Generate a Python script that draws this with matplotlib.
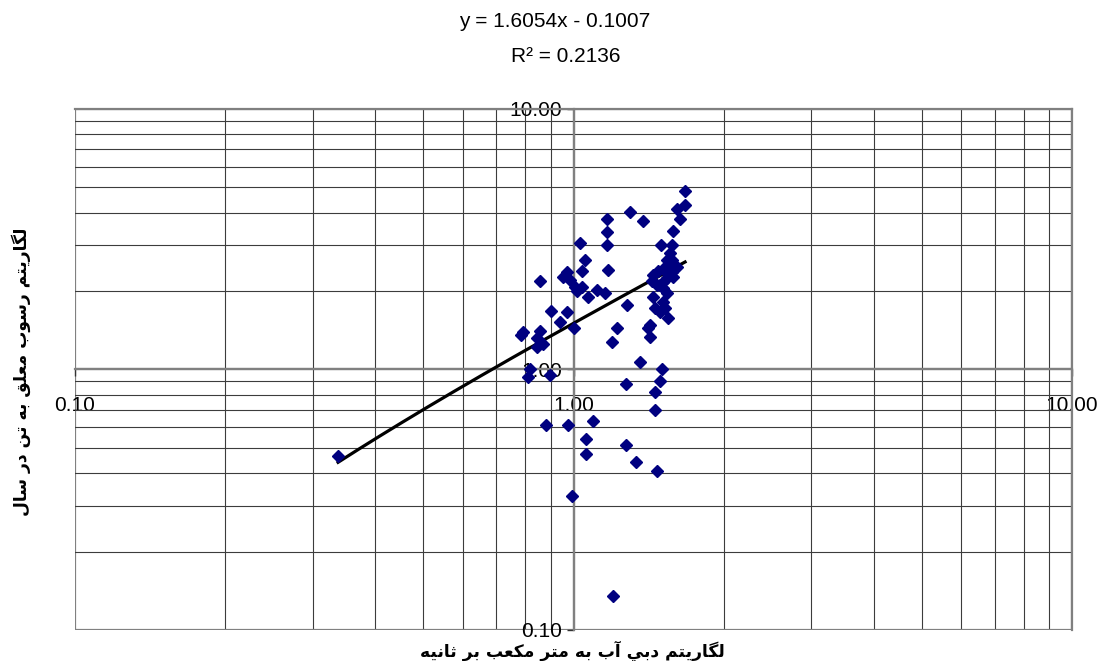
import numpy as np
import matplotlib.pyplot as plt
from matplotlib.ticker import LogLocator, FormatStrFormatter, NullFormatter

# discharge (m3/s) and suspended sediment (t/yr)
discharge = [
    1.674, 1.674, 1.613, 1.635, 1.583, 1.298, 1.379, 1.167, 1.167, 1.167,
    1.030, 1.054, 1.040, 1.173, 0.857, 0.970, 0.953, 0.984, 1.007, 1.040,
    1.016, 1.069, 1.115, 1.157, 1.280, 0.901, 0.970, 0.940, 1.002, 0.792,
    0.785, 0.857, 0.845, 0.869, 0.845, 1.223, 1.195, 1.424, 1.411, 1.424,
    1.360, 1.505, 1.491, 1.457, 1.457, 1.471, 1.274, 1.274, 1.335, 1.094,
    1.060, 1.060, 0.975, 0.881, 0.993, 1.200, 0.810, 0.818, 0.897, 0.337,
    1.498, 1.576, 1.561, 1.576, 1.540, 1.512, 1.477, 1.443, 1.561, 1.540,
    1.512, 1.576, 1.437, 1.471, 1.512, 1.540, 1.443, 1.512, 1.457, 1.526,
    1.491, 1.547, 1.613, 1.491, 1.583, 1.540,
]
sediment = [
    4.844, 4.280, 4.132, 3.782, 3.401, 4.024, 3.716, 3.782, 3.371, 3.006,
    3.059, 2.633, 2.388, 2.410, 2.186, 2.367, 2.265, 2.206, 2.074, 2.074,
    2.002, 1.898, 2.020, 1.967, 1.769, 1.677, 1.663, 1.522, 1.443, 1.393,
    1.356, 1.405, 1.321, 1.253, 1.220, 1.443, 1.275, 1.482, 1.443, 1.333,
    1.069, 1.004, 0.903, 0.820, 0.699, 0.408, 0.880, 0.513, 0.442, 0.634,
    0.541, 0.474, 0.612, 0.612, 0.327, 0.135, 0.936, 1.004, 0.953, 0.466,
    3.006, 3.006, 2.801, 2.633, 2.496, 2.431, 2.388, 2.306, 2.306, 2.245,
    2.167, 2.367, 2.186, 2.110, 2.055, 1.967, 1.898, 1.816, 1.722, 1.722,
    1.663, 1.576, 2.474, 2.110, 2.265, 2.633,
]

# trendline as printed on the chart
slope = 1.6054
intercept = -0.1007
r_squared = 0.2136

xlabel = "لگاريتم دبي آب به متر مكعب بر ثانيه"
ylabel = "لگاريتم رسوب معلق به تن در سال"

# contextual forms (isolated, final, initial, medial) for the letters used
FORMS = {
    "ا": (0xFE8D, 0xFE8E, None, None),
    "آ": (0xFE81, 0xFE82, None, None),
    "د": (0xFEA9, 0xFEAA, None, None),
    "ر": (0xFEAD, 0xFEAE, None, None),
    "و": (0xFEED, 0xFEEE, None, None),
    "ب": (0xFE8F, 0xFE90, 0xFE91, 0xFE92),
    "ت": (0xFE95, 0xFE96, 0xFE97, 0xFE98),
    "ث": (0xFE99, 0xFE9A, 0xFE9B, 0xFE9C),
    "س": (0xFEB1, 0xFEB2, 0xFEB3, 0xFEB4),
    "ع": (0xFEC9, 0xFECA, 0xFECB, 0xFECC),
    "ق": (0xFED5, 0xFED6, 0xFED7, 0xFED8),
    "ك": (0xFED9, 0xFEDA, 0xFEDB, 0xFEDC),
    "ل": (0xFEDD, 0xFEDE, 0xFEDF, 0xFEE0),
    "م": (0xFEE1, 0xFEE2, 0xFEE3, 0xFEE4),
    "ن": (0xFEE5, 0xFEE6, 0xFEE7, 0xFEE8),
    "ه": (0xFEE9, 0xFEEA, 0xFEEB, 0xFEEC),
    "ي": (0xFEF1, 0xFEF2, 0xFEF3, 0xFEF4),
    "گ": (0xFB92, 0xFB93, 0xFB94, 0xFB95),
}


def shape(text):
    out = []
    for i, ch in enumerate(text):
        f = FORMS.get(ch)
        if f is None:
            out.append(ch)
            continue
        prev = text[i - 1] if i > 0 else ""
        nxt = text[i + 1] if i + 1 < len(text) else ""
        jp = prev in FORMS and FORMS[prev][2] is not None
        jn = f[2] is not None and nxt in FORMS
        idx = 3 if (jp and jn) else 1 if jp else 2 if jn else 0
        out.append(chr(f[idx]))
    return "".join(reversed(out))


plt.rcParams["font.family"] = ["Liberation Sans", "DejaVu Sans"]

fig = plt.figure(figsize=(11.02, 6.61), dpi=100)
ax = fig.add_axes([0.0681, 0.0469, 0.9047, 0.7882])

ax.set_xscale("log")
ax.set_yscale("log")
ax.set_xlim(0.1, 10)
ax.set_ylim(0.1, 10)

for axis in (ax.xaxis, ax.yaxis):
    axis.set_major_locator(LogLocator(base=10))
    axis.set_minor_locator(LogLocator(base=10, subs=np.arange(2, 10)))
    axis.set_major_formatter(FormatStrFormatter("%.2f"))
    axis.set_minor_formatter(NullFormatter())

ax.grid(which="minor", color="#3c3c3c", lw=0.8)
ax.grid(which="major", color="#808080", lw=1.6)
ax.set_axisbelow(True)

ax.spines["left"].set_position(("data", 1))
ax.spines["bottom"].set_position(("data", 1))
for s in ax.spines.values():
    s.set_color("#808080")
    s.set_linewidth(1.6)

ax.tick_params(which="minor", length=0)
ax.tick_params(axis="y", which="major", direction="out", length=5, width=1,
               color="#333333", labelsize=15, pad=3)
ax.tick_params(axis="x", which="major", direction="out", length=5, width=1,
               color="#333333", labelsize=15, pad=14)

xt = np.geomspace(min(discharge), max(discharge), 200)
ax.plot(xt, slope * xt + intercept, color="black", lw=2.3, zorder=3)
ax.plot(discharge, sediment, linestyle="none", marker="D", ms=6.3,
        color="#000080", zorder=4)

fig.text(0.503, 0.968, f"y = {slope}x - {abs(intercept)}", ha="center",
         va="center", fontsize=15)
fig.text(0.513, 0.915, f"R² = {r_squared}", ha="center", va="center",
         fontsize=15)

fig.text(0.519, 0.016, shape(xlabel), ha="center", va="center",
         fontsize=12.3, fontweight="bold", family=["DejaVu Sans"])
fig.text(0.019, 0.438, shape(ylabel), ha="center", va="center", rotation=90,
         fontsize=12.3, fontweight="bold", family=["DejaVu Sans"])

fig.savefig("out.png", dpi=100)
